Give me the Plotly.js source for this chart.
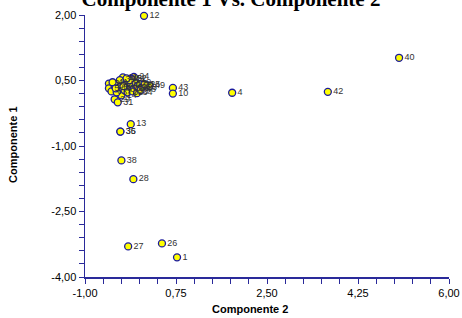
<!DOCTYPE html>
<html><head><meta charset="utf-8">
<script src="https://cdn.plot.ly/plotly-3.0.1.min.js"></script>
<style>html,body{margin:0;padding:0;background:#fff}#chart{width:462px;height:318px}</style>
</head><body><div id="chart"></div>
<script>
const labels = ['12','40','4','42','43','10','49','13','35','36','38','28','27','26','1',
  '24','22','29','31','14','2','3','5','6','7','8','9','11','15','16','17','18','19','20','21','23','25','30','32','33','34','37','39','41','44','45','46','47','48'];
const comp2 = [0.135,5.04,1.83,3.67,0.69,0.69,0.244,-0.12,-0.32,-0.32,-0.30,-0.07,-0.17,0.48,0.77,
  -0.06,-0.11,-0.43,-0.37,-0.30,-0.49,-0.54,-0.54,-0.49,-0.43,-0.37,-0.33,-0.27,-0.20,-0.15,-0.11,-0.06,-0.02,0.01,0.05,0.09,0.15,-0.24,-0.18,-0.08,0.00,-0.39,-0.33,-0.47,-0.14,-0.20,-0.41,-0.26,0.07];
const comp1 = [1.98,1.02,0.22,0.24,0.33,0.20,0.38,-0.50,-0.67,-0.67,-1.33,-1.76,-3.30,-3.23,-3.55,
  0.58,0.54,0.07,0.00,0.16,0.39,0.43,0.32,0.25,0.37,0.41,0.35,0.57,0.43,0.31,0.41,0.32,0.44,0.37,0.41,0.34,0.41,0.28,0.23,0.25,0.21,0.23,0.51,0.46,0.51,0.55,0.32,0.37,0.28];
const xTickVals = [-1, 0.75, 2.5, 4.25, 6];
const xTickText = ['-1,00', '0,75', '2,50', '4,25', '6,00'];
const yTickVals = [-4, -2.5, -1, 0.5, 2];
const yTickText = ['-4,00', '-2,50', '-1,00', '0,50', '2,00'];

const axisColor = '#2a2a9a';
const trace = {
  x: comp2, y: comp1, text: labels, type: 'scatter', mode: 'markers+text',
  textposition: 'middle right', cliponaxis: false,
  textfont: {family: 'Arial, Liberation Sans, sans-serif', size: 9, color: '#333333'},
  marker: {size: 7, color: '#ffff00', line: {color: '#1a1a9c', width: 1.3}},
  hoverinfo: 'none'
};
const layout = {
  width: 462, height: 318,
  margin: {l: 85, r: 13, t: 15, b: 41},
  showlegend: false,
  paper_bgcolor: '#ffffff', plot_bgcolor: '#ffffff',
  font: {family: 'Arial, Liberation Sans, sans-serif', size: 11, color: '#000'},
  title: {text: 'Componente 1 Vs. Componente 2', x: 0.5, xref: 'container', y: 0.981, yref: 'container', yanchor: 'bottom',
    font: {family: 'Liberation Serif, Times New Roman, serif', size: 21, color: '#000', weight: 'bold'}},
  xaxis: {range: [-1, 6], tickvals: xTickVals, ticktext: xTickText, showgrid: false, zeroline: false,
    showline: true, linecolor: axisColor, linewidth: 1.5, ticks: 'outside', ticklen: 5, tickcolor: axisColor, tickwidth: 1,
    minor: {tick0: -1, dtick: 0.35, ticks: 'outside', ticklen: 5, tickcolor: axisColor, tickwidth: 1, showgrid: false},
    tickfont: {size: 11, color: '#000'}},
  yaxis: {range: [-4, 2], tickvals: yTickVals, ticktext: yTickText, showgrid: false, zeroline: false,
    showline: true, linecolor: axisColor, linewidth: 1.5, ticks: 'outside', ticklen: 5, tickcolor: axisColor, tickwidth: 1,
    minor: {tick0: -4, dtick: 0.3, ticks: 'outside', ticklen: 5, tickcolor: axisColor, tickwidth: 1, showgrid: false},
    tickfont: {size: 11, color: '#000'}},
  annotations: [
    {text: '<b>Componente 2</b>', xref: 'paper', yref: 'paper', x: 0.453, y: -0.09, xanchor: 'center', yanchor: 'top',
     showarrow: false, font: {size: 11, color: '#000'}},
    {text: '<b>Componente 1</b>', xref: 'paper', yref: 'paper', x: -0.2, y: 0.505, xanchor: 'center', yanchor: 'middle',
     textangle: -90, showarrow: false, font: {size: 11, color: '#000'}}
  ]
};
Plotly.newPlot('chart', [trace], layout, {staticPlot: true, displayModeBar: false});
</script></body></html>
